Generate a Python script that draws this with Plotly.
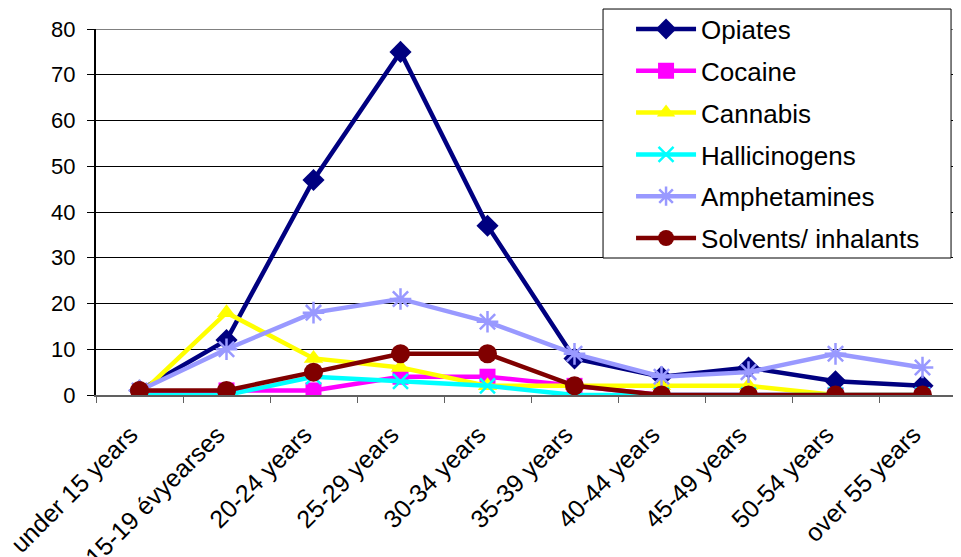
import plotly.graph_objects as go

age_groups = ["under 15 years", "15-19 évyearses", "20-24 years", "25-29 years",
              "30-34 years", "35-39 years", "40-44 years", "45-49 years",
              "50-54 years", "over 55 years"]

opiates = [1, 12, 47, 75, 37, 8, 4, 6, 3, 2]
cocaine = [0, 1, 1, 4, 4, 2, 0, 0, 0, 0]
cannabis = [0, 18, 8, 6, 2, 2, 2, 2, 0, 0]
hallucinogens = [0, 0, 4, 3, 2, 0, 0, 0, 0, 0]
amphetamines = [1, 10, 18, 21, 16, 9, 4, 5, 9, 6]
solvents = [1, 1, 5, 9, 9, 2, 0, 0, 0, 0]

series = [
    ("Opiates", opiates, "#000080", "diamond", 17),
    ("Cocaine", cocaine, "#FF00FF", "square", 16),
    ("Cannabis", cannabis, "#FFFF00", "triangle-up", 17),
    ("Hallicinogens", hallucinogens, "#00FFFF", "x-thin-open", 15),
    ("Amphetamines", amphetamines, "#9999FF", "asterisk-open", 18),
    ("Solvents/ inhalants", solvents, "#800000", "circle", 19),
]

fig = go.Figure()
for i, (name, vals, color, sym, size) in enumerate(series):
    fig.add_scatter(
        x=age_groups, y=vals, name=name, mode="lines+markers",
        legendgroup=str(i),
        line=dict(color=color, width=4.5),
        marker=dict(symbol=sym, size=size, color=color,
                    line=dict(color=color, width=2.5 if "open" in sym else 0)),
    )

# grey plot-area border along the top
fig.add_hline(y=80, line_color="#808080", line_width=2)

# legend frame (drawn as a shape so it can be wider than plotly's own box)
fig.add_shape(type="rect", xref="paper", yref="paper",
              x0=0.5828, x1=0.9828, y0=0.3743, y1=1.0546,
              line=dict(color="black", width=1), fillcolor="white", layer="above")

# the page body has an 8px margin, so offsets below are shifted by that
fig.update_layout(
    width=961, height=557,
    margin=dict(l=88, r=3, t=21, b=170, autoexpand=False),
    paper_bgcolor="white", plot_bgcolor="white",
    font=dict(family="Liberation Sans, Arial", size=22, color="black"),
    showlegend=True,
    legend=dict(x=0.615, y=1.064, xanchor="left", yanchor="top",
                borderwidth=0, bgcolor="rgba(0,0,0,0)",
                font=dict(size=26), traceorder="grouped", tracegroupgap=5,
                itemwidth=60),
    xaxis=dict(range=[-0.5, 9.5], tickangle=-45, tickson="boundaries",
               ticks="outside", ticklen=6,
               tickcolor="#606060", showline=True, linecolor="#606060",
               linewidth=2, showgrid=False, tickfont=dict(size=25),
               ticklabelstandoff=13, ticklabelshift=-9, automargin=False),
    yaxis=dict(range=[0, 80], dtick=10, showgrid=True, gridcolor="black",
               gridwidth=1, ticks="outside", ticklen=7, tickcolor="black",
               showline=True, linecolor="black", linewidth=2, zeroline=False,
               tickfont=dict(size=22), ticklabelstandoff=7, automargin=False),
)

fig.write_html("out.html")
